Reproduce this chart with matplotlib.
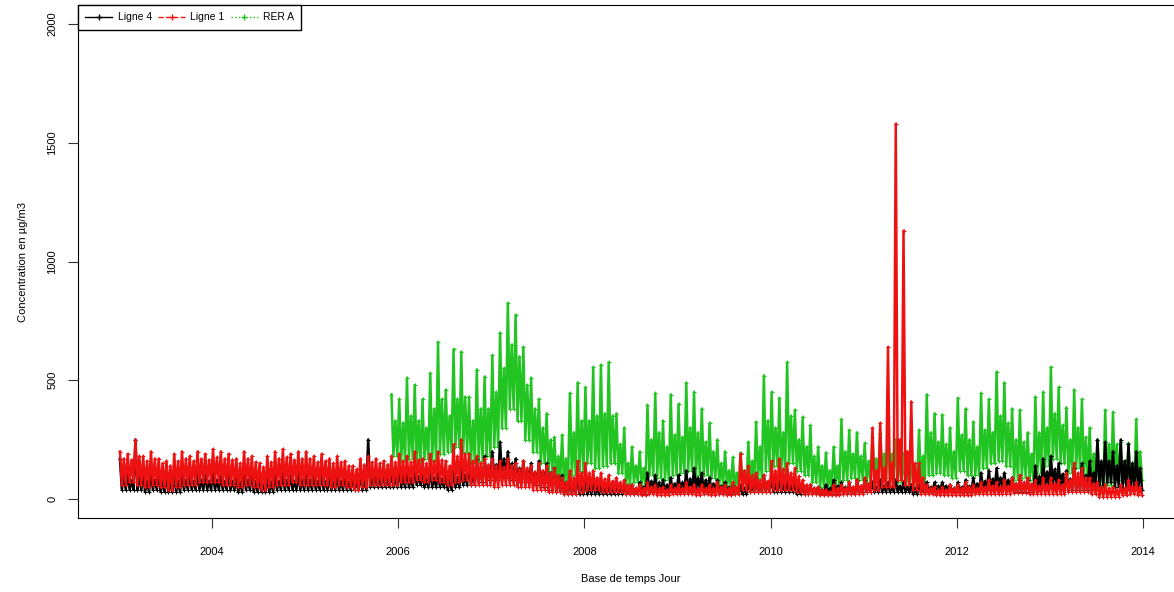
import numpy as np
import matplotlib.pyplot as plt
from matplotlib.lines import Line2D

plt.rcParams['font.family'] = ['Liberation Sans', 'DejaVu Sans']

# monthly high / typical / low concentrations (µg/m3)
# Ligne 4 and Ligne 1: Jan 2003 -> Dec 2013
ligne4_hi = [170, 110, 250, 100, 110, 100, 90, 100, 110, 100, 110, 100,
             110, 100, 100, 90, 110, 100, 80, 90, 100, 110, 100, 110,
             110, 100, 100, 90, 100, 90, 90, 100, 250, 110, 110, 120,
             130, 120, 130, 110, 120, 110, 100, 120, 130, 150, 170, 180,
             200, 240, 200, 170, 160, 150, 160, 150, 130, 100, 90, 100,
             80, 70, 60, 60, 70, 60, 60, 70, 110, 100, 80, 90,
             100, 120, 130, 110, 90, 80, 70, 60, 60, 70, 90, 100,
             90, 80, 70, 70, 60, 60, 50, 60, 80, 70, 70, 80,
             80, 70, 80, 70, 80, 70, 60, 60, 70, 70, 70, 60,
             70, 80, 90, 110, 120, 130, 110, 90, 80, 80, 140, 170,
             180, 150, 120, 130, 150, 160, 250, 240, 200, 250, 230, 200]
ligne4_typ = [100, 80, 90, 75, 80, 75, 70, 75, 80, 75, 80, 75,
              80, 75, 75, 70, 80, 75, 60, 70, 75, 80, 75, 80,
              80, 75, 75, 70, 75, 70, 70, 75, 100, 85, 85, 90,
              95, 90, 95, 85, 90, 85, 80, 90, 100, 110, 125, 130,
              145, 170, 150, 130, 120, 110, 115, 110, 95, 70, 65, 70,
              55, 50, 45, 45, 50, 45, 45, 50, 75, 70, 60, 65,
              70, 85, 90, 80, 65, 55, 50, 45, 45, 50, 65, 70,
              65, 60, 55, 50, 45, 45, 40, 45, 55, 50, 50, 55,
              55, 50, 55, 50, 55, 50, 45, 45, 50, 55, 55, 45,
              50, 55, 65, 75, 85, 90, 80, 65, 60, 60, 95, 115,
              125, 105, 85, 90, 100, 110, 160, 160, 140, 160, 150, 130]
ligne4_lo = [40, 40, 40, 30, 40, 30, 30, 30, 40, 40, 40, 40,
             40, 40, 40, 30, 40, 30, 30, 30, 40, 40, 40, 40,
             40, 40, 40, 40, 40, 40, 40, 40, 50, 50, 50, 50,
             50, 50, 60, 50, 50, 50, 40, 50, 60, 60, 70, 80,
             80, 90, 80, 70, 70, 60, 50, 40, 30, 20, 20, 20,
             20, 20, 20, 20, 20, 20, 20, 20, 30, 30, 30, 30,
             30, 30, 40, 30, 30, 20, 20, 20, 20, 30, 30, 30,
             30, 30, 30, 20, 20, 20, 20, 20, 20, 20, 20, 30,
             30, 30, 30, 30, 30, 30, 20, 30, 30, 40, 40, 30,
             30, 30, 30, 40, 40, 50, 40, 30, 30, 30, 40, 50,
             60, 50, 40, 40, 40, 50, 60, 70, 50, 40, 40, 40]

ligne1_hi = [200, 190, 250, 180, 200, 170, 160, 190, 200, 180, 200, 190,
             210, 200, 190, 170, 200, 180, 150, 180, 200, 210, 190, 200,
             200, 180, 190, 170, 180, 160, 140, 170, 180, 170, 160, 180,
             190, 180, 200, 170, 190, 200, 160, 230, 250, 190, 180, 170,
             170, 160, 170, 150, 160, 140, 150, 140, 130, 90, 120, 160,
             150, 120, 110, 100, 90, 80, 60, 60, 70, 60, 50, 60,
             60, 70, 60, 60, 60, 70, 60, 70, 190, 140, 110, 100,
             160, 170, 150, 130, 80, 60, 50, 40, 60, 60, 70, 80,
             90, 300, 320, 640, 1580, 1130, 410, 150, 60, 50, 50, 60,
             60, 70, 60, 70, 80, 70, 80, 90, 100, 90, 80, 90,
             90, 80, 110, 150, 130, 90, 70, 60, 50, 60, 80, 70]
ligne1_typ = [170, 165, 180, 160, 170, 150, 140, 160, 170, 160, 170, 165,
              175, 170, 165, 150, 170, 155, 135, 155, 170, 175, 165, 170,
              170, 155, 160, 150, 155, 140, 125, 145, 155, 150, 145, 155,
              160, 155, 165, 150, 160, 165, 140, 180, 190, 160, 150, 145,
              140, 135, 140, 125, 130, 115, 120, 110, 100, 70, 90, 110,
              110, 90, 85, 75, 70, 60, 45, 45, 50, 45, 40, 45,
              45, 50, 45, 45, 45, 50, 45, 50, 120, 100, 80, 75,
              120, 125, 110, 95, 60, 45, 40, 30, 45, 45, 50, 55,
              65, 120, 130, 150, 250, 200, 150, 90, 45, 40, 40, 45,
              45, 50, 45, 50, 55, 50, 55, 65, 70, 65, 55, 60,
              65, 60, 80, 110, 90, 65, 50, 45, 40, 45, 55, 50]
ligne1_lo = [60, 70, 60, 50, 60, 50, 40, 50, 60, 60, 70, 70,
             70, 60, 60, 50, 60, 50, 40, 50, 60, 60, 70, 60,
             60, 60, 60, 50, 60, 50, 40, 50, 60, 60, 60, 60,
             70, 70, 80, 70, 80, 70, 60, 70, 80, 60, 60, 60,
             50, 60, 60, 50, 50, 40, 40, 30, 30, 20, 20, 30,
             40, 40, 30, 30, 30, 20, 20, 15, 20, 15, 15, 20,
             20, 20, 15, 20, 15, 20, 15, 20, 40, 30, 30, 30,
             40, 40, 40, 30, 20, 20, 15, 15, 15, 20, 20, 20,
             30, 40, 50, 50, 80, 60, 40, 20, 20, 15, 15, 15,
             15, 15, 20, 20, 20, 20, 20, 25, 25, 20, 20, 20,
             20, 20, 30, 30, 30, 20, 10, 10, 10, 15, 20, 15]

# RER A: Dec 2005 -> Dec 2013
rera_hi = [440,
           420, 510, 480, 420, 530, 660, 460, 630, 620, 430, 545, 515,
           605, 700, 825, 775, 640, 510, 420, 360, 260, 270, 445, 490,
           470, 555, 565, 575, 360, 300, 220, 200, 395, 445, 330, 440,
           400, 490, 450, 380, 320, 250, 200, 175, 195, 240, 325, 520,
           450, 425, 575, 375, 345, 310, 220, 195, 220, 335, 290, 280,
           235, 260, 280, 290, 250, 195, 185, 290, 440, 360, 355, 300,
           425, 380, 325, 445, 420, 535, 490, 380, 375, 280, 430, 450,
           555, 470, 385, 460, 420, 300, 250, 375, 365, 240, 235, 335]
rera_typ = [330,
            320, 350, 330, 300, 380, 420, 350, 420, 430, 330, 380, 380,
            450, 550, 650, 600, 480, 380, 300, 250, 180, 170, 280, 330,
            330, 350, 360, 350, 230, 150, 140, 130, 250, 280, 220, 270,
            260, 300, 280, 240, 200, 150, 120, 110, 120, 160, 220, 330,
            300, 280, 350, 250, 220, 180, 140, 120, 140, 200, 190, 180,
            160, 170, 190, 190, 170, 130, 120, 180, 280, 240, 230, 200,
            270, 250, 220, 290, 280, 350, 320, 250, 240, 190, 280, 300,
            360, 310, 250, 300, 260, 190, 150, 230, 230, 160, 150, 200]
rera_lo = [180,
           160, 170, 150, 170, 160, 190, 200, 220, 200, 150, 160, 180,
           220, 300, 380, 330, 250, 200, 150, 120, 80, 60, 100, 120,
           150, 130, 140, 150, 110, 60, 70, 60, 100, 90, 80, 100,
           110, 120, 100, 100, 90, 60, 50, 40, 50, 60, 80, 120,
           140, 120, 150, 120, 100, 70, 50, 40, 60, 80, 90, 80,
           70, 80, 90, 90, 70, 50, 50, 60, 100, 110, 100, 90,
           120, 100, 100, 130, 150, 160, 140, 80, 90, 80, 110, 140,
           170, 150, 110, 130, 90, 60, 40, 60, 80, 70, 60, 80]

years = [2004, 2006, 2008, 2010, 2012, 2014]


def series(hi, typ, lo, start):
    # each month: peak, trough, typical high, trough
    t, v = [], []
    for i in range(len(hi)):
        m = start + i / 12
        t += [m + 0.125 / 12, m + 0.375 / 12, m + 0.625 / 12, m + 0.875 / 12]
        v += [hi[i], lo[i], typ[i], lo[i]]
    return np.array(t), np.array(v)


fig = plt.figure(figsize=(11.74, 5.92), dpi=100)
ax = fig.add_axes([78 / 1174, 1 - 518 / 592, (1184 - 78) / 1174, 513 / 592])

red = '#EE1111'
green = '#22C422'

for hi, typ, lo, start, col, z in [(rera_hi, rera_typ, rera_lo, 2005 + 11 / 12, green, 1),
                                   (ligne4_hi, ligne4_typ, ligne4_lo, 2003, 'black', 2),
                                   (ligne1_hi, ligne1_typ, ligne1_lo, 2003, red, 3)]:
    t, v = series(hi, typ, lo, start)
    ax.plot(t, v, color=col, lw=1.8, marker='+', ms=3.5, mew=0.8, zorder=z)

ax.set_xlim(2002.56, 2014.44)
ax.set_ylim(-80, 2080)
ax.set_xticks(years)
ax.set_xticklabels([str(y) for y in years])
ax.set_yticks([0, 500, 1000, 1500, 2000])
ax.set_yticklabels(['0', '500', '1000', '1500', '2000'], rotation=90, va='center')
ax.tick_params(direction='out', length=7, labelsize=8, color='#333333')
ax.tick_params(axis='x', pad=14)
ax.tick_params(axis='y', pad=8)
ax.set_xlabel('Base de temps Jour', fontsize=8, labelpad=12)
ax.set_ylabel('Concentration en µg/m3', fontsize=8, labelpad=14)

handles = [Line2D([], [], color='black', ls='-', marker='+', ms=4, lw=1),
           Line2D([], [], color=red, ls='--', marker='+', ms=4, lw=1),
           Line2D([], [], color=green, ls=':', marker='+', ms=4, lw=1)]
leg = ax.legend(handles, ['Ligne 4', 'Ligne 1', 'RER A'], loc='upper left', ncol=3,
                fontsize=7.5, fancybox=False, edgecolor='black', framealpha=1,
                borderaxespad=0, handlelength=2.6, columnspacing=0.6,
                handletextpad=0.5, borderpad=0.7)
leg.get_frame().set_linewidth(1)

fig.savefig('out.png', dpi=100)
